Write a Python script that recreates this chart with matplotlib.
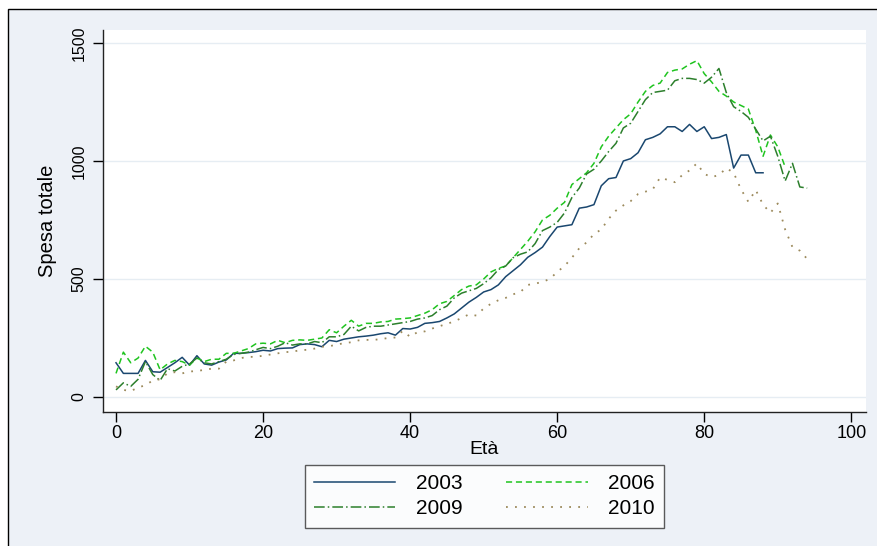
import matplotlib
matplotlib.use("Agg")
import matplotlib.pyplot as plt
from matplotlib.patches import Rectangle

plt.rcParams["font.family"] = ["Liberation Sans", "DejaVu Sans"]

# spesa totale per età
spesa_2003 = [145, 100, 100, 100, 155, 107, 105, 125, 145, 168,
              135, 175, 140, 135, 148, 157, 185, 185, 188, 192,
              198, 195, 205, 207, 208, 222, 225, 222, 213, 240,
              235, 245, 250, 255, 258, 262, 268, 272, 262, 290,
              288, 295, 312, 315, 320, 335, 352, 377, 402, 422,
              445, 455, 475, 510, 535, 560, 592, 612, 635, 680,
              720, 725, 730, 800, 805, 815, 895, 925, 930, 1000,
              1010, 1035, 1090, 1100, 1115, 1145, 1145, 1125, 1155, 1125,
              1145, 1095, 1100, 1112, 970, 1025, 1025, 950, 950]

spesa_2006 = [100, 190, 145, 165, 215, 190, 115, 140, 155, 150,
              135, 165, 150, 160, 160, 185, 185, 195, 205, 225,
              228, 225, 240, 230, 240, 242, 240, 245, 250, 285,
              272, 300, 325, 300, 312, 312, 318, 320, 330, 332,
              335, 345, 355, 370, 395, 405, 430, 455, 470, 475,
              500, 530, 545, 555, 590, 625, 660, 700, 750, 770,
              800, 825, 900, 925, 950, 990, 1060, 1105, 1140, 1175,
              1200, 1250, 1295, 1320, 1330, 1375, 1385, 1390, 1410, 1425,
              1370, 1335, 1295, 1275, 1250, 1235, 1220, 1130, 1020, 1110,
              1060, 975]

spesa_2009 = [30, 60, 45, 75, 150, 95, 70, 120, 110, 130,
              140, 165, 145, 140, 150, 160, 180, 185, 190, 200,
              210, 205, 215, 230, 220, 225, 225, 235, 230, 255,
              255, 265, 300, 280, 295, 300, 300, 305, 310, 315,
              320, 330, 335, 345, 370, 385, 420, 440, 450, 460,
              480, 505, 540, 555, 590, 605, 615, 650, 705, 720,
              740, 780, 845, 885, 945, 965, 1000, 1040, 1075, 1140,
              1160, 1210, 1260, 1290, 1295, 1300, 1340, 1350, 1350, 1345,
              1330, 1355, 1392, 1290, 1230, 1210, 1185, 1135, 1085, 1105,
              1020, 915, 990, 890, 885]

spesa_2010 = [45, 30, 25, 40, 50, 70, 75, 100, 105, 100,
              108, 110, 115, 120, 120, 150, 155, 165, 170, 170,
              175, 180, 185, 190, 192, 198, 200, 205, 213, 215,
              222, 228, 232, 240, 242, 242, 245, 250, 252, 280,
              255, 275, 278, 290, 300, 310, 320, 335, 350, 345,
              375, 395, 410, 420, 435, 445, 475, 480, 488, 500,
              530, 555, 590, 630, 655, 690, 710, 755, 790, 812,
              830, 860, 870, 880, 930, 920, 910, 940, 960, 990,
              945, 932, 940, 970, 950, 880, 827, 877, 815, 780,
              820, 710, 635, 620, 585]

serie = [
    ("2003", spesa_2003, "#1a476f", "-", 1.1),
    ("2006", spesa_2006, "#1fc41f", (0, (4, 2.5)), 1.1),
    ("2009", spesa_2009, "#2c7f2c", (0, (7, 2, 1, 2)), 1.1),
    ("2010", spesa_2010, "#9c8a5c", (0, (1, 4)), 1.3),
]

fig = plt.figure(figsize=(8.78, 5.46), dpi=100, facecolor="white")
fig.patches.append(Rectangle((8 / 878, -0.05), 1.1, 1 - 9 / 546 + 0.05,
                             transform=fig.transFigure, facecolor="#edf1f7",
                             edgecolor="black", linewidth=1.0, zorder=-10))

ax = fig.add_axes([103 / 878, 1 - 412 / 546, (866 - 103) / 878, (412 - 30) / 546])
ax.set_facecolor("white")

linee = {}
for nome, valori, colore, stile, spessore in serie:
    eta = list(range(len(valori)))
    (linee[nome],) = ax.plot(eta, valori, color=colore, linestyle=stile,
                             linewidth=spessore, label=nome)

ax.set_xlim(-1.77, 102.0)
ax.set_ylim(-63.6, 1555)
ax.set_xticks([0, 20, 40, 60, 80, 100])
ax.set_yticks([0, 500, 1000, 1500])
ax.grid(axis="y", color="#e6edf3", linewidth=1.0)
ax.set_axisbelow(True)

for lato in ["top", "right"]:
    ax.spines[lato].set_visible(False)
for lato in ["left", "bottom"]:
    ax.spines[lato].set_color("#222222")
    ax.spines[lato].set_linewidth(1.0)

ax.tick_params(axis="x", direction="out", length=7, width=1, labelsize=13, pad=2)
ax.tick_params(axis="y", direction="out", length=7, width=1, labelsize=11.5, pad=5)
for etichetta in ax.get_yticklabels():
    etichetta.set_rotation(90)
    etichetta.set_verticalalignment("center")

ax.set_xlabel("Età", fontsize=14, labelpad=0)
ax.set_ylabel("Spesa totale", fontsize=14.5, labelpad=10)

# legenda riga per riga: 2003 2006 / 2009 2010
ordine = ["2003", "2009", "2006", "2010"]
legenda = ax.legend([linee[n] for n in ordine], ordine, ncol=2, loc="center",
                    bbox_to_anchor=(484.5 / 878, 1 - 496 / 546),
                    bbox_transform=fig.transFigure, fontsize=15, frameon=True,
                    fancybox=False, edgecolor="#333333", handlelength=3.9,
                    handletextpad=1.0, columnspacing=2.1, borderpad=0.45,
                    labelspacing=0.3, borderaxespad=0)
legenda.get_frame().set_linewidth(1.0)

fig.savefig("out.png", dpi=100, facecolor=fig.get_facecolor())
